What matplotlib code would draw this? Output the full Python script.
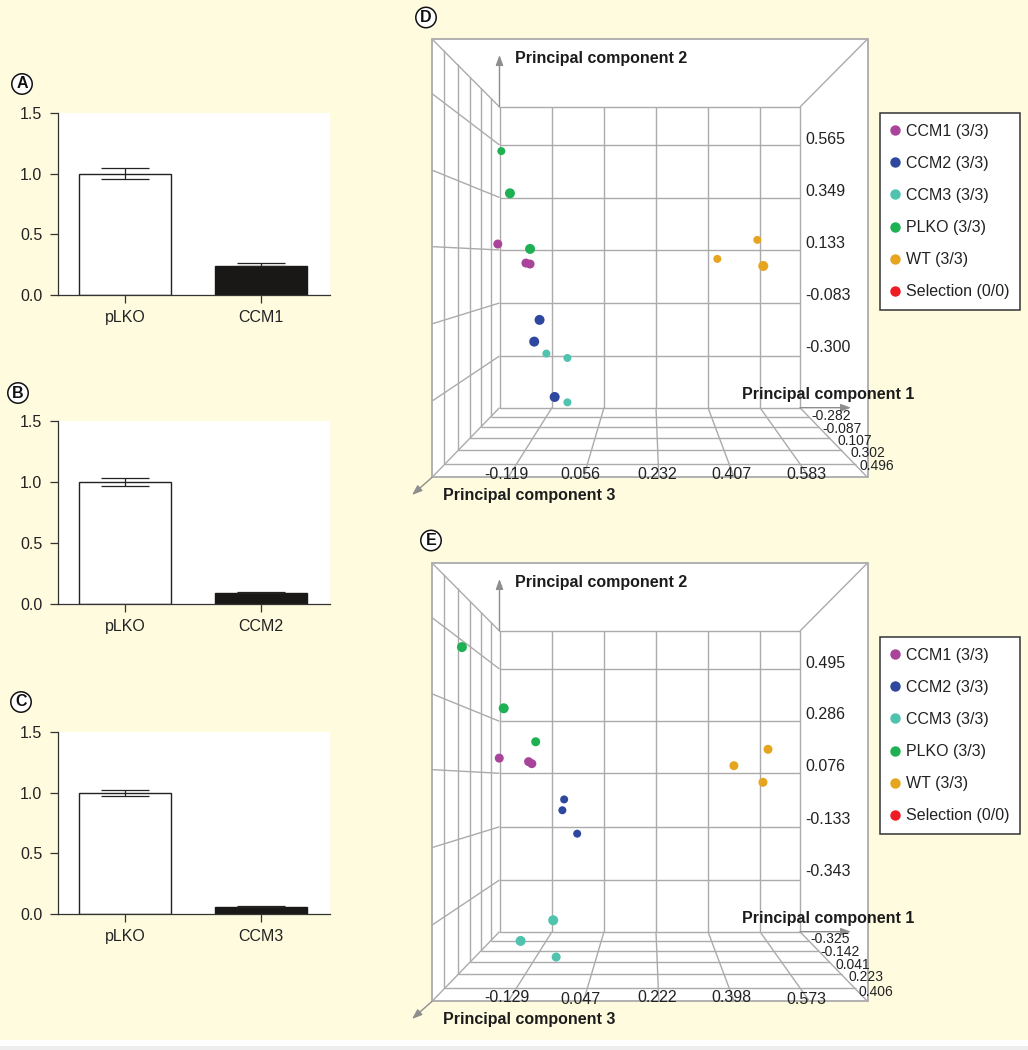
import numpy as np
import matplotlib
matplotlib.use('Agg')
import matplotlib.pyplot as plt
from matplotlib.lines import Line2D
from matplotlib.patches import Rectangle

plt.rcParams['font.family'] = ['Liberation Sans', 'DejaVu Sans']

W, H = 1028, 1050
bg = '#FFFBDF'
ink = '#222222'
grid = '#ABABAB'

# bar panels
bar_cats = ['pLKO', 'CCM1', 'CCM2', 'CCM3']
bar_plko = [1.00, 1.00, 1.00]
bar_plko_err_up = [0.045, 0.03, 0.025]
bar_plko_err_down = [0.04, 0.03, 0.025]
bar_kd = [0.235, 0.09, 0.06]
bar_kd_err = [0.025, 0.008, 0.006]
bar_ticks = [0.0, 0.5, 1.0, 1.5]

# pca panels, values as seen on the back wall scale (pc3, pc2)
series_names = ['CCM1 (3/3)', 'CCM2 (3/3)', 'CCM3 (3/3)', 'PLKO (3/3)', 'WT (3/3)', 'Selection (0/0)']
series_colors = ['#A8459B', '#2E479F', '#4FC3AE', '#1DB153', '#E5A51F', '#EE1C25']

d_x_ticks = [-0.119, 0.056, 0.232, 0.407, 0.583]
d_y_ticks = [0.565, 0.349, 0.133, -0.083, -0.300]
d_z_ticks = [-0.282, -0.087, 0.107, 0.302, 0.496]
d_x = [[-0.302, -0.207, -0.193], [-0.161, -0.179, -0.110], [-0.138, -0.067, -0.067],
       [-0.290, -0.261, -0.193], [0.574, 0.439, 0.594], []]
d_y = [[0.159, 0.081, 0.077], [-0.152, -0.241, -0.468], [-0.290, -0.308, -0.490],
       [0.540, 0.367, 0.139], [0.176, 0.098, 0.069], []]
d_r = [[4.5, 4.5, 4.5], [5, 5, 5], [4, 4, 4], [4, 5, 5], [4, 4, 5], []]

e_x_ticks = [-0.129, 0.047, 0.222, 0.398, 0.573]
e_y_ticks = [0.495, 0.286, 0.076, -0.133, -0.343]
e_z_ticks = [-0.325, -0.142, 0.041, 0.223, 0.406]
e_x = [[-0.307, -0.208, -0.197], [-0.088, -0.094, -0.044], [-0.125, -0.235, -0.115],
       [-0.433, -0.292, -0.184], [0.600, 0.485, 0.583], []]
e_y = [[0.141, 0.127, 0.119], [-0.023, -0.066, -0.159], [-0.503, -0.585, -0.649],
       [0.582, 0.339, 0.206], [0.176, 0.111, 0.045], []]
e_r = [[4.5, 4.5, 4.5], [4, 4, 4], [5, 5, 4.5], [5, 5, 4.5], [4.5, 4.5, 4.5], []]


def add_axes_px(x0, y0, x1, y1, **kw):
    return fig.add_axes([x0 / W, 1 - y1 / H, (x1 - x0) / W, (y1 - y0) / H], **kw)


fig = plt.figure(figsize=(W / 100, H / 100), dpi=100, facecolor=bg)

# overlay in pixel units for frames and labels
ov = add_axes_px(0, 0, W, H)
ov.set_xlim(0, W)
ov.set_ylim(H, 0)
ov.axis('off')
ov.add_patch(Rectangle((0, 1040), W, 6, fc='white', ec='none'))
ov.add_patch(Rectangle((0, 1046), W, 4, fc='#EEEEEE', ec='none'))


def badge(x, y, s):
    ov.text(x, y, s, ha='center', va='center', fontsize=11.5, fontweight='bold', color='#111111',
            bbox=dict(boxstyle='circle,pad=0.17', fc='white', ec='#111111', lw=1.1))


def draw_bar(y_top, y_bot, idx, letter, letter_xy):
    ax = add_axes_px(57.5, y_top, 330, y_bot, facecolor='white')
    ax.bar([0], [bar_plko[idx]], width=0.67, color='white', edgecolor='#222222', linewidth=1)
    ax.bar([1], [bar_kd[idx]], width=0.67, color='#1A1717', edgecolor='#1A1717', linewidth=1)
    ax.errorbar([0], [bar_plko[idx]], yerr=[[bar_plko_err_down[idx]], [bar_plko_err_up[idx]]],
                color='#222222', capsize=17.3, elinewidth=0.9, capthick=0.9)
    ax.errorbar([1], [bar_kd[idx]], yerr=[[0], [bar_kd_err[idx]]],
                color='#222222', capsize=17.3, elinewidth=0.9, capthick=0.9)
    ax.set_xlim(-0.496, 1.507)
    ax.set_ylim(0, 1.5)
    ax.set_xticks([0, 1])
    ax.set_xticklabels([bar_cats[0], bar_cats[idx + 1]])
    ax.set_yticks(bar_ticks)
    ax.set_yticklabels(['%.1f' % t for t in bar_ticks])
    ax.tick_params(labelsize=11.5, length=6, width=0.9, color='#333333', labelcolor=ink, pad=5)
    for s in ['top', 'right']:
        ax.spines[s].set_visible(False)
    for s in ['left', 'bottom']:
        ax.spines[s].set_color('#333333')
        ax.spines[s].set_linewidth(0.9)
    badge(letter_xy[0], letter_xy[1], letter)


draw_bar(113, 295, 0, 'A', (22, 84))
draw_bar(421, 604, 1, 'B', (18, 393))
draw_bar(732, 914, 2, 'C', (21, 702))

# box geometry
left_o, right_o = 432, 867.5
back_l, back_r = 499.5, 800
back_xs = [552, 604, 656, 708, 760]
cx = 649.75
depth_x = [499.5, 490.6, 481, 470, 457.5, 444, 432]
depth_k = [(cx - v) / (cx - back_l) for v in depth_x]


def draw_pca(off, x_ticks, y_ticks, z_ticks, xs, ys, rs, back_ys, x_lab_y, z_lab, letter_xy, letter):
    top_o, bot_o = 39 + off, 477.4 + off
    back_t, back_b = 107 + off, 407.7 + off
    cy = (back_t + back_b) / 2
    ky = lambda k: 1 + (k - 1) * 1.018
    ln = dict(color=grid, lw=1.0, solid_capstyle='butt', zorder=2)

    ov.add_patch(Rectangle((left_o, top_o), right_o - left_o, bot_o - top_o, fc='white', ec=grid, lw=1.3, zorder=1))
    ov.plot([back_l, back_r, back_r, back_l, back_l], [back_t, back_t, back_b, back_b, back_t], **ln)
    for a, b in [((left_o, top_o), (back_l, back_t)), ((right_o, top_o), (back_r, back_t)),
                 ((left_o, bot_o), (back_l, back_b)), ((right_o, bot_o), (back_r, back_b))]:
        ov.plot([a[0], b[0]], [a[1], b[1]], **ln)

    # back wall, left wall, floor
    for bx in back_xs:
        ov.plot([bx, bx], [back_t, back_b], **ln)
        fx = cx + (bx - cx) * depth_k[-1]
        ov.plot([bx, fx], [back_b, bot_o], **ln)
    for by in back_ys:
        ov.plot([back_l, back_r], [by, by], **ln)
        fy = cy + (by - cy) * ky(depth_k[-1])
        ov.plot([left_o, back_l], [fy, by], **ln)
    for k in depth_k[1:-1]:
        x = cx - (cx - back_l) * k
        y0 = cy - (cy - back_t) * ky(k)
        y1 = cy + (back_b - cy) * ky(k)
        xr = cx + (back_r - cx) * k
        ov.plot([x, x], [y0, y1], **ln)
        ov.plot([x, xr], [y1, y1], **ln)

    # axis arrows
    arrow = dict(arrowstyle='-|>,head_width=0.22,head_length=0.6', color='#8E8E8E', lw=1.0, shrinkA=0, shrinkB=0)
    ov.annotate('', xy=(back_l, 55 + off), xytext=(back_l, back_t), arrowprops=arrow, zorder=3)
    ov.annotate('', xy=(851, back_b), xytext=(back_r, back_b), arrowprops=arrow, zorder=3)
    ov.annotate('', xy=(412, 495 + off), xytext=(left_o, bot_o), arrowprops=arrow, zorder=3)

    lab = dict(fontsize=11.5, fontweight='bold', color='#1C1C1C', va='center', ha='left', zorder=4)
    ov.text(515, 59 + off, 'Principal component 2', **lab)
    ov.text(742, 394.5 + off, 'Principal component 1', **lab)
    ov.text(443, 495.6 + off, 'Principal component 3', **lab)

    tk = dict(fontsize=11.5, color=ink, va='center', zorder=4)
    y_lab = [by - d for by, d in zip(back_ys, [6, 6.5, 7, 7.5, 8])]
    for v, y in zip(y_ticks, y_lab):
        ov.text(805.5, y, '%.3f' % v, ha='left', **tk)
    for v, x, y in zip(x_ticks, [506.5, 580, 657.6, 731.3, 806.4], x_lab_y):
        ov.text(x, y, '%.3f' % v, ha='center', **tk)
    for v, (x, y) in zip(z_ticks, z_lab):
        ov.text(x, y, '%.3f' % v, ha='right', fontsize=10, color=ink, va='center', zorder=4)

    badge(letter_xy[0], letter_xy[1], letter)

    # scatter axes: covers the frame, scaled so the ticks sit on the back wall grid
    ax = add_axes_px(left_o, top_o, right_o, bot_o)
    ax.patch.set_visible(False)
    ax.axis('off')
    sx = (x_ticks[-1] - x_ticks[0]) / (back_xs[-1] - back_xs[0])
    sy = (y_ticks[0] - y_ticks[-1]) / (back_ys[-1] - back_ys[0])
    ax.set_xlim(x_ticks[0] + (left_o - back_xs[0]) * sx, x_ticks[0] + (right_o - back_xs[0]) * sx)
    ax.set_ylim(y_ticks[0] - (bot_o - back_ys[0]) * sy, y_ticks[0] - (top_o - back_ys[0]) * sy)
    for i in range(len(series_names)):
        sizes = [(2 * r * 0.72) ** 2 for r in rs[i]]
        ax.scatter(xs[i], ys[i], s=sizes, color=series_colors[i], linewidths=0, zorder=5, clip_on=False)

    handles = [Line2D([], [], ls='none', marker='o', ms=7.5, mew=0, color=c) for c in series_colors]
    leg = ax.legend(handles, series_names, loc='upper left', bbox_to_anchor=(880 / W, 1 - (113 + off) / H),
                    bbox_transform=fig.transFigure, borderaxespad=0, fontsize=11.5, labelspacing=1.07,
                    handlelength=0.5, handletextpad=0.44, borderpad=0.68, fancybox=False,
                    framealpha=1, facecolor='white', edgecolor='#333333')
    leg.get_frame().set_linewidth(1.1)
    for t in leg.get_texts():
        t.set_color(ink)


draw_pca(0, d_x_ticks, d_y_ticks, d_z_ticks, d_x, d_y, d_r,
         [145, 197.5, 250, 303, 356], [474.7] * 5,
         [(850.6, 415.8), (862, 429), (872.3, 440.9), (885, 453), (894.6, 466)], (426, 17.5), 'D')
draw_pca(524, e_x_ticks, e_y_ticks, e_z_ticks, e_x, e_y, e_r,
         [669, 721.3, 773.3, 826.8, 880], [997, 999, 997, 997, 999],
         [(849.6, 938.7), (859.8, 952), (870, 964.8), (883.4, 977), (893.6, 991.5)], (431, 540.5), 'E')

fig.savefig('out.png', dpi=100, facecolor=bg)
